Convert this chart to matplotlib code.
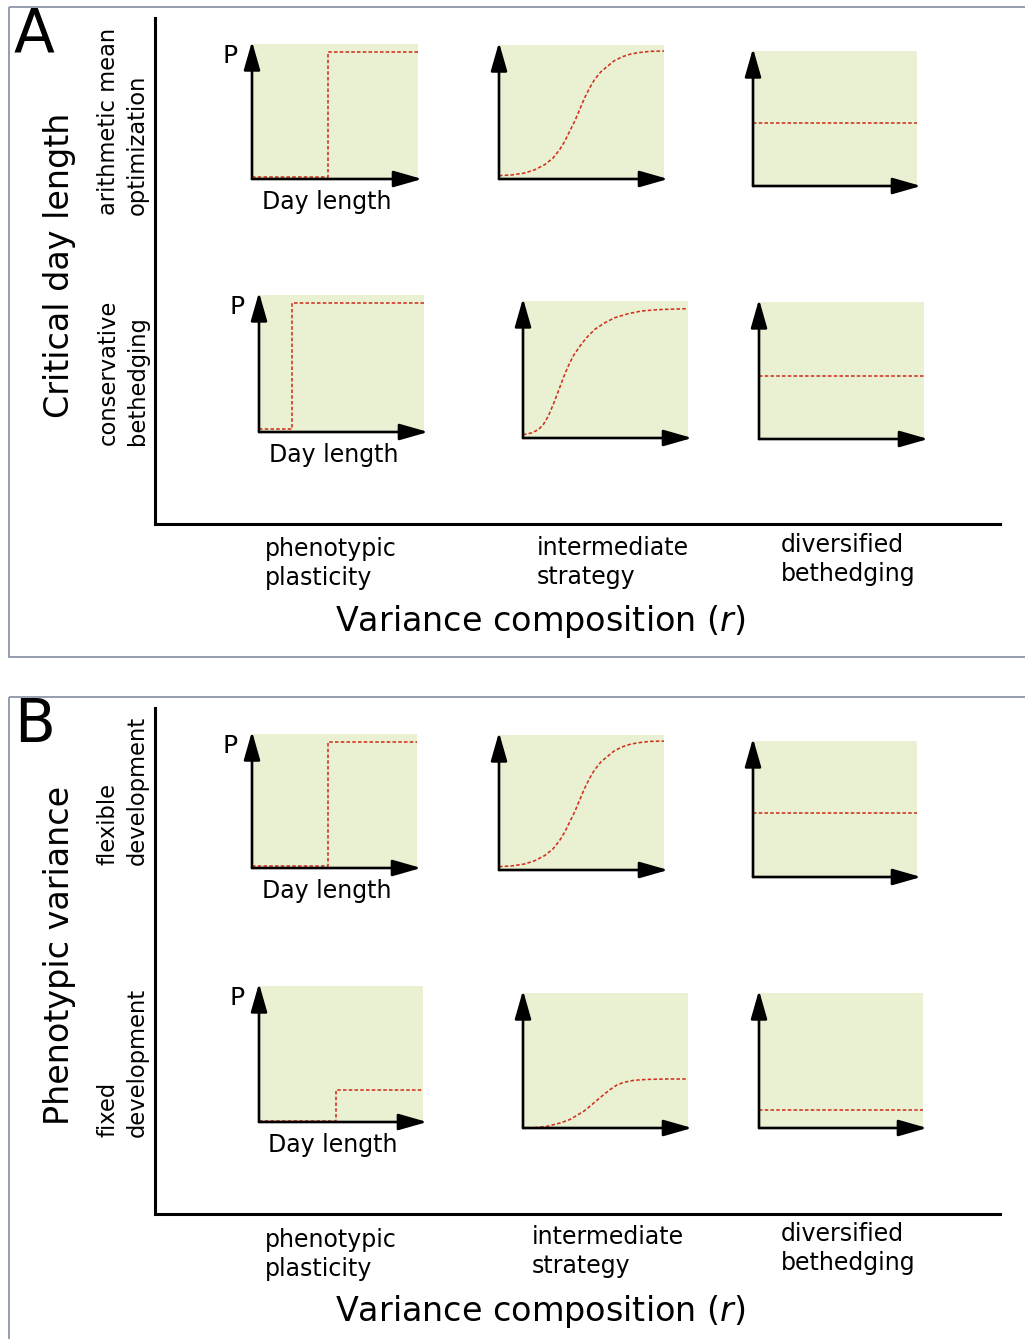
import matplotlib.pyplot as plt
from matplotlib.patches import Rectangle

# --- canvas in pixels ---
W, H = 1025, 1339
DPI = 100

GREEN = '#eaf1d3'
RED = '#d0301c'
FRAME = '#8c96a8'

# --- curve values (x, P on 0..1 scales) ---
step_late_x = [0.0, 0.46, 0.46, 1.0]
step_late_y = [0.015, 0.015, 0.94, 0.94]
step_early_x = [0.0, 0.20, 0.20, 1.0]
step_early_y = [0.02, 0.02, 0.94, 0.94]
step_low_x = [0.0, 0.47, 0.47, 1.0]
step_low_y = [0.01, 0.01, 0.235, 0.235]

sig_mid_x = [0.0, 0.076, 0.157, 0.217, 0.277, 0.327, 0.367, 0.398, 0.428, 0.458, 0.488,
             0.518, 0.548, 0.578, 0.618, 0.659, 0.699, 0.749, 0.799, 0.859, 0.92, 1.0]
sig_mid_y = [0.025, 0.03, 0.045, 0.069, 0.107, 0.156, 0.218, 0.28, 0.355, 0.429, 0.516,
             0.603, 0.677, 0.74, 0.801, 0.843, 0.883, 0.913, 0.933, 0.945, 0.953, 0.955]
sig_early_x = [0.0, 0.052, 0.093, 0.123, 0.153, 0.183, 0.214, 0.244, 0.274, 0.304, 0.345,
               0.385, 0.435, 0.496, 0.556, 0.637, 0.718, 0.819, 0.919, 1.0]
sig_early_y = [0.024, 0.037, 0.061, 0.098, 0.159, 0.244, 0.341, 0.439, 0.524, 0.598, 0.671,
               0.732, 0.793, 0.841, 0.878, 0.907, 0.927, 0.937, 0.941, 0.944]
sig_low_x = [0.0, 0.065, 0.145, 0.226, 0.287, 0.327, 0.367, 0.408, 0.448, 0.489, 0.529,
             0.57, 0.61, 0.671, 0.752, 0.873, 1.0]
sig_low_y = [0.0, 0.002, 0.012, 0.037, 0.064, 0.094, 0.123, 0.163, 0.205, 0.247, 0.286,
             0.319, 0.338, 0.353, 0.36, 0.363, 0.363]

flat_x = [0.0, 1.0]
flat_a1_y = [0.47, 0.47]
flat_a2_y = [0.46, 0.46]
flat_b2_y = [0.135, 0.135]

strategies = ['phenotypic\nplasticity', 'intermediate\nstrategy', 'diversified\nbethedging']
x_title = 'Variance composition ($\\it{r}$)'

fig = plt.figure(figsize=(W / DPI, H / DPI), dpi=DPI)
bg = fig.add_axes([0, 0, 1, 1])
bg.set_xlim(0, W)
bg.set_ylim(H, 0)
bg.set_axis_off()


def mini(rect, xs, ys, labels=False):
    """One small green P-vs-day-length sketch; rect = (left, top, right, bottom) in px."""
    x0, y0, x1, y1 = rect
    ax = fig.add_axes([x0 / W, 1 - y1 / H, (x1 - x0) / W, (y1 - y0) / H])
    ax.set_facecolor(GREEN)
    ax.set_xlim(0, 1)
    ax.set_ylim(0, 1)
    for s in ax.spines.values():
        s.set_visible(False)
    ax.set_xticks([])
    ax.set_yticks([])
    ax.plot(xs, ys, color=RED, lw=1.15, ls=(0, (2.2, 1.4)), zorder=2, clip_on=False)
    arrow = dict(arrowstyle='-|>,head_length=1.75,head_width=0.5', color='black',
                 lw=1.9, shrinkA=0, shrinkB=0, mutation_scale=10)
    ax.annotate('', xy=(1.025, 0), xytext=(0, 0), xycoords='axes fraction',
                arrowprops=arrow, annotation_clip=False, zorder=5)
    ax.annotate('', xy=(0, 1.02), xytext=(0, 0), xycoords='axes fraction',
                arrowprops=arrow, annotation_clip=False, zorder=5)
    if labels:
        bg.text(x0 - 22, y0 + 12, 'P', fontsize=18, ha='center', va='center')
        bg.text((x0 + x1) / 2 - 8, y1 + 23, 'Day length', fontsize=17,
                ha='center', va='center')


def panel(top, letter, ylab, row_labels, curves, cat_pos):
    # grey frame, running off the right/bottom of the canvas
    bg.add_patch(Rectangle((9, top), 1100, 650, fill=False, ec=FRAME, lw=1.3))
    bg.text(14, top - 1, letter, fontsize=43, ha='left', va='top')
    # big axes
    bg.plot([155, 155, 1000], [top + 11, top + 517, top + 517], color='black', lw=2.2,
            solid_joinstyle='miter')
    bg.text(60, top + 258, ylab, fontsize=24, rotation=90, ha='center', va='center')
    for (txt, yb) in row_labels:
        bg.text(123, top + yb, txt, fontsize=16.3, rotation=90, ha='center', va='bottom',
                multialignment='left', linespacing=1.35)
    for (rect, xs, ys, lab) in curves:
        r = (rect[0], rect[1] + top, rect[2], rect[3] + top)
        mini(r, xs, ys, lab)
    for txt, (cx, cy) in zip(strategies, cat_pos):
        bg.text(cx, top + cy, txt, fontsize=17, ha='left', va='top', linespacing=1.28)
    bg.text(540, top + 614, x_title, fontsize=24, ha='center', va='center')


panel(7, 'A', 'Critical day length',
      [('arithmetic mean\noptimization', 208), ('conservative\nbethedging', 438)],
      [((252, 37, 418, 172), step_late_x, step_late_y, True),
       ((499, 38, 664, 172), sig_mid_x, sig_mid_y, False),
       ((753, 44, 917, 179), flat_x, flat_a1_y, False),
       ((259, 288, 424, 425), step_early_x, step_early_y, True),
       ((523, 294, 688, 431), sig_early_x, sig_early_y, False),
       ((759, 295, 924, 432), flat_x, flat_a2_y, False)],
      [(265, 530), (537, 529), (781, 526)])

panel(697, 'B', 'Phenotypic variance',
      [('flexible\ndevelopment', 168), ('fixed\ndevelopment', 440)],
      [((252, 37, 417, 171), step_late_x, step_late_y, True),
       ((499, 38, 664, 173), sig_mid_x, sig_mid_y, False),
       ((753, 44, 917, 180), flat_x, flat_a1_y, False),
       ((259, 289, 423, 425), step_low_x, step_low_y, True),
       ((523, 296, 688, 431), sig_low_x, sig_low_y, False),
       ((759, 296, 923, 431), flat_x, flat_b2_y, False)],
      [(265, 531), (532, 528), (781, 525)])

fig.savefig('out.png', dpi=DPI)
